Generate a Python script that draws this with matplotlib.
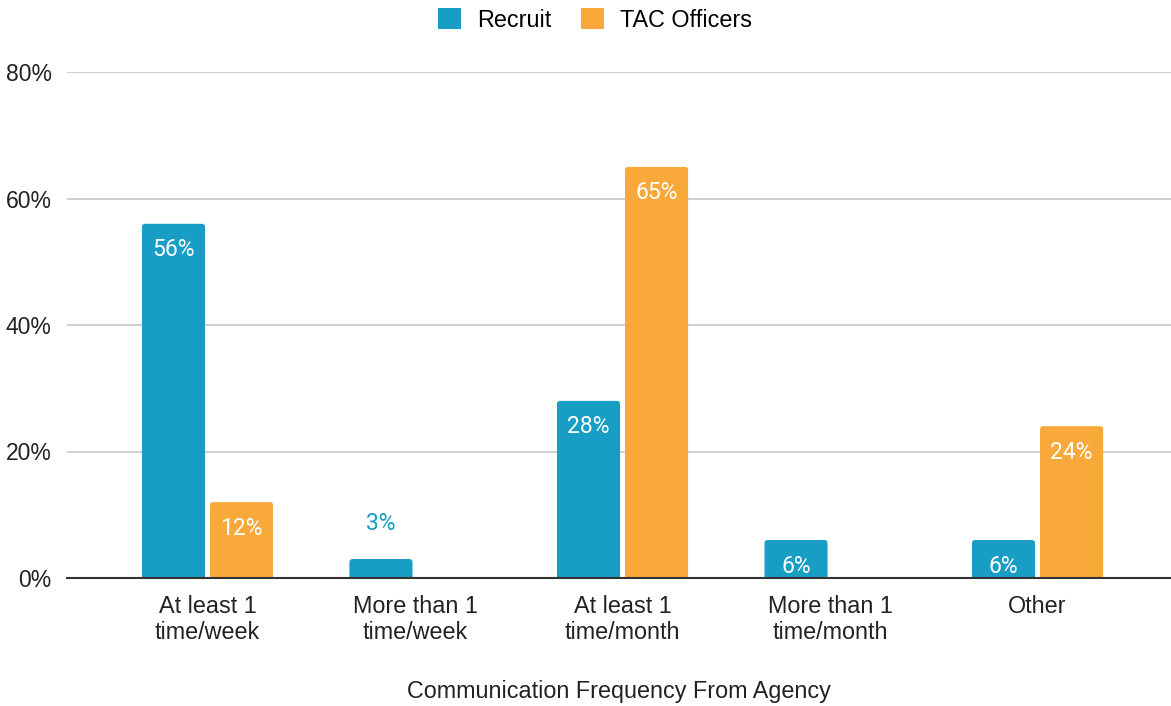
import numpy as np
import matplotlib.pyplot as plt
from matplotlib.patches import FancyBboxPatch, Patch

categories = ["At least 1\ntime/week", "More than 1\ntime/week", "At least 1\ntime/month",
              "More than 1\ntime/month", "Other"]
recruit = [56, 3, 28, 6, 6]
tac = [12, 0, 65, 0, 24]
y_ticks = [0, 20, 40, 60, 80]

BLUE = "#189dc4"
ORANGE = "#f9a83a"
FS = 16.8

fig = plt.figure(figsize=(11.71, 7.06), dpi=100)
ax = fig.add_axes([67 / 1171, 1 - 578 / 706, 1 - 67 / 1171, (578 - 72) / 706])

x = np.arange(len(categories))
w = 0.304
off = 0.164

b1 = ax.bar(x - off, recruit, w, color=BLUE, zorder=3)
b2 = ax.bar(x + off, tac, w, color=ORANGE, zorder=3)

ax.set_xlim(-0.677, 4.643)
ax.set_ylim(0, 80)

# swap plain rectangles for ones with slightly rounded top corners
px_x = 207.5          # pixels per x unit
px_y = 506 / 80       # pixels per y unit
r = 3.0
for bars in (b1, b2):
    for p in bars:
        p.set_visible(False)
        h = p.get_height()
        if h <= 0:
            continue
        fb = FancyBboxPatch((p.get_x(), -r / px_y), p.get_width(), h + r / px_y,
                            boxstyle=f"round,pad=0,rounding_size={r / px_x}",
                            mutation_aspect=px_x / px_y,
                            facecolor=p.get_facecolor(), edgecolor="none", zorder=3)
        ax.add_patch(fb)

# value labels
lab_font = dict(family=["Roboto", "DejaVu Sans"], fontsize=16.5)
for xs, vals, col in ((x - off, recruit, BLUE), (x + off, tac, ORANGE)):
    for xi, v in zip(xs, vals):
        if v <= 0:
            continue
        if v >= 5:
            ax.text(xi, v - 26 / px_y, f"{v}%", ha="center", va="center", color="white", zorder=4, **lab_font)
        else:
            ax.text(xi, v + 36 / px_y, f"{v}%", ha="center", va="center", color=col, zorder=4, **lab_font)

ax.set_yticks(y_ticks)
ax.set_yticklabels([f"{t}%" for t in y_ticks], family=["Liberation Sans"], fontsize=16.5, color="#222222")
ax.set_xticks(x)
ax.set_xticklabels(categories, family=["Liberation Sans"], fontsize=FS, color="#222222", linespacing=1.2)
ax.tick_params(axis="both", length=0)
ax.tick_params(axis="y", pad=11)
ax.tick_params(axis="x", pad=12)

ax.grid(axis="y", color="#cccccc", linewidth=1.3, zorder=0)
for s in ("top", "right", "left"):
    ax.spines[s].set_visible(False)
ax.spines["bottom"].set_color("#333333")
ax.spines["bottom"].set_linewidth(1.5)
ax.spines["bottom"].set_zorder(5)

ax.set_xlabel("Communication Frequency From Agency", family=["Liberation Sans"], fontsize=FS,
              color="#222222", labelpad=26)

handles = [Patch(facecolor=BLUE, edgecolor="none"), Patch(facecolor=ORANGE, edgecolor="none")]
fig.legend(handles=handles, labels=["Recruit", "TAC Officers"], loc="center",
           bbox_to_anchor=(595 / 1171, 1 - 20 / 706), ncol=2, frameon=False,
           prop=dict(family="Liberation Sans", size=FS), handlelength=1.0, handleheight=1.0,
           columnspacing=1.25, handletextpad=0.68)

fig.savefig("out.png", dpi=100)
